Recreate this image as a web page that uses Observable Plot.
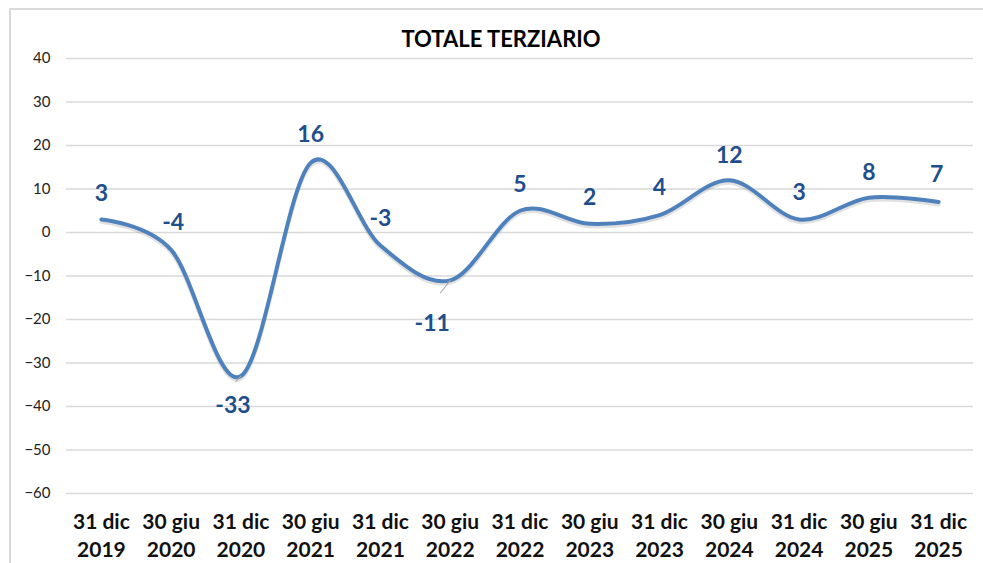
<!DOCTYPE html>
<html>
<head>
<meta charset="utf-8">
<script src="https://cdn.jsdelivr.net/npm/d3@7"></script>
<script src="https://cdn.jsdelivr.net/npm/@observablehq/plot@0.6"></script>
<style>
  html, body { margin: 0; padding: 0; background: #fff; }
  #wrap { position: relative; width: 983px; height: 563px; overflow: hidden; }
  #frame { position: absolute; left: 9px; top: 8px; width: 1000px; height: 600px; border: 2px solid #d9d9d9; box-sizing: border-box; }
  #title { position: absolute; left: 0; width: 1002px; top: 25px; text-align: center; font-family: Lato, sans-serif; font-weight: bold; font-size: 22px; color: #000; }
  #chart { position: absolute; left: 0; top: 0; }
</style>
</head>
<body>
<div id="wrap">
  <div id="frame"></div>
  <div id="chart"></div>
  <div id="title">TOTALE TERZIARIO</div>
</div>
<script>
// Data
const periods = ["31 dic 2019", "30 giu 2020", "31 dic 2020", "30 giu 2021", "31 dic 2021", "30 giu 2022", "31 dic 2022", "30 giu 2023", "31 dic 2023", "30 giu 2024", "31 dic 2024", "30 giu 2025", "31 dic 2025"];
const values = [3, -4, -33, 16, -3, -11, 5, 2, 4, 12, 3, 8, 7];
const yTicks = [40, 30, 20, 10, 0, -10, -20, -30, -40, -50, -60];

// Label placement (styling, not data)
const labelDx = [0, 2, -8, 0, 0, -18, 0, 0, 0, 0, 0, 0, -2];
const labelDy = [-26, -27, 30, -28, -27, 43, -26, -26, -27, -25, -27, -25, -27];
const leaders = [{i: 2, rotate: 222, length: 14}, {i: 5, rotate: 218, length: 28}];

const data = periods.map((p, i) => ({period: p, value: values[i], dx: labelDx[i], dy: labelDy[i]}));
const leaderData = leaders.map(d => ({period: periods[d.i], value: values[d.i], rotate: d.rotate, length: d.length}));

const lineShape = {
  draw(context, l) { context.moveTo(0, 0); context.lineTo(0, -l); }
};

const chart = Plot.plot({
  width: 983,
  height: 563,
  marginTop: 58,
  marginBottom: 70,
  marginLeft: 66,
  marginRight: 10,
  style: {fontFamily: "Lato, sans-serif", background: "transparent", overflow: "visible"},
  x: {type: "point", domain: periods, padding: 0.5, round: false},
  y: {domain: [-60, 40]},
  marks: [
    Plot.gridY(yTicks, {stroke: "#d9d9d9", strokeOpacity: 1, strokeWidth: 1.5}),
    Plot.axisY(yTicks, {tickSize: 0, tickPadding: 16, fontSize: 15, fill: "#222", label: null}),
    Plot.axisX({tickSize: 0, tickPadding: 16, fontSize: 21, fontWeight: "bold", fill: "#111", lineHeight: 1.32, label: null,
      tickFormat: s => s.replace(/ (\d{4})$/, "\n$1")}),
    Plot.line(data, {x: "period", y: "value", curve: "cardinal", tension: 0, stroke: "#888", strokeOpacity: 0.25, strokeWidth: 4, dy: 2.5}),
    Plot.line(data, {x: "period", y: "value", curve: "cardinal", tension: 0, stroke: "#4f81bd", strokeWidth: 4}),
    Plot.vector(leaderData, {x: "period", y: "value", rotate: "rotate", length: "length", anchor: "start", shape: lineShape, stroke: "#a6a6a6", strokeWidth: 1}),
    ...data.map(d => Plot.text([d], {x: "period", y: "value", text: r => String(r.value), dx: d.dx, dy: d.dy, fontSize: 23, fontWeight: "bold", fill: "#1f4e8c"}))
  ]
});
document.getElementById("chart").appendChild(chart);
</script>
</body>
</html>
